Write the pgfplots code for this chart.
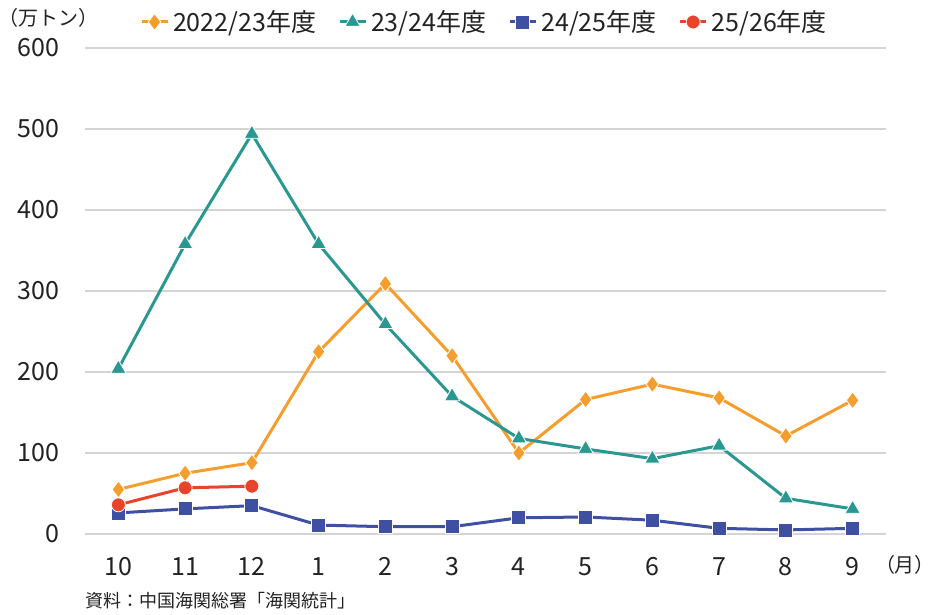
\documentclass[border=0pt]{standalone}
\usepackage{pgfplots}
\pgfplotsset{compat=1.18}
\usepackage{fontspec}
\setmainfont{Noto Sans CJK JP}
\definecolor{c1}{HTML}{F59E2E}
\definecolor{c2}{HTML}{2A9890}
\definecolor{c3}{HTML}{3F50A2}
\definecolor{c4}{HTML}{E8442B}
\definecolor{gridc}{HTML}{D4D4D4}
\definecolor{txt}{HTML}{222222}
\begin{document}
\begin{tikzpicture}
\path[use as bounding box] (-42.5pt,-40.5pt) rectangle (424.5pt,267pt);
\begin{axis}[
  at={(0pt,0pt)}, anchor=south west,
  scale only axis, width=400.5pt, height=243pt,
  xmin=-0.5, xmax=11.5, ymin=0, ymax=600,
  xtick={0,...,11}, xticklabels={10,11,12,1,2,3,4,5,6,7,8,9},
  ytick={0,100,...,600},
  ymajorgrids, grid style={gridc, line width=0.7pt},
  axis line style={draw=none}, major tick style={draw=none}, major tick length=0pt,
  /pgf/number format/assume math mode=true,
  tick label style={font=\fontsize{12.5}{14}\selectfont, text=txt},
  yticklabel style={inner sep=0pt, anchor=east, xshift=-12.5pt},
  xticklabel style={inner sep=0pt, anchor=north, yshift=-11.5pt},
  legend columns=4,
  legend style={at={(0.5,1)}, anchor=center, yshift=13pt, draw=none, fill=none,
    font=\fontsize{12.5}{14}\selectfont, text=txt,
    /tikz/every even column/.append style={column sep=9pt}},
  legend image code/.code={\draw[mark repeat=2,mark phase=2] plot coordinates {(0pt,0pt)(6.5pt,0pt)(13pt,0pt)};},
  clip=false,
]
\addplot[c1, line width=1.5pt, mark=diamond*, mark size=4.2pt, mark options={fill=c1, draw=white, line width=0.4pt}]
  coordinates {(0,55)(1,75)(2,88)(3,225)(4,309)(5,220)(6,100)(7,166)(8,185)(9,168)(10,121)(11,165)};
\addlegendentry{2022/23年度}
\addplot[c2, line width=1.5pt, mark=triangle*, mark size=4.4pt, mark options={fill=c2, draw=white, line width=0.4pt}]
  coordinates {(0,204)(1,358)(2,494)(3,358)(4,259)(5,170)(6,118)(7,105)(8,93)(9,109)(10,44)(11,31)};
\addlegendentry{23/24年度}
\addplot[c3, line width=1.5pt, mark=square*, mark size=3.5pt, mark options={fill=c3, draw=white, line width=0.4pt}]
  coordinates {(0,26)(1,31)(2,35)(3,11)(4,9)(5,9)(6,20)(7,21)(8,17)(9,7)(10,5)(11,7)};
\addlegendentry{24/25年度}
\addplot[c4, line width=1.5pt, mark=*, mark size=3.5pt, mark options={fill=c4, draw=white, line width=0.4pt}]
  coordinates {(0,36)(1,57)(2,59)};
\addlegendentry{25/26年度}
\end{axis}
\node[font=\fontsize{10}{12}\selectfont, text=txt, inner sep=0pt] at (-18pt,258pt) {（万トン）};
\node[font=\fontsize{10}{12}\selectfont, text=txt, inner sep=0pt] at (410pt,-15.5pt) {（月）};
\node[font=\fontsize{9}{11}\selectfont, text=txt, inner sep=0pt, anchor=west] at (0pt,-33.5pt) {資料：中国海関総署「海関統計」};
\end{tikzpicture}
\end{document}
